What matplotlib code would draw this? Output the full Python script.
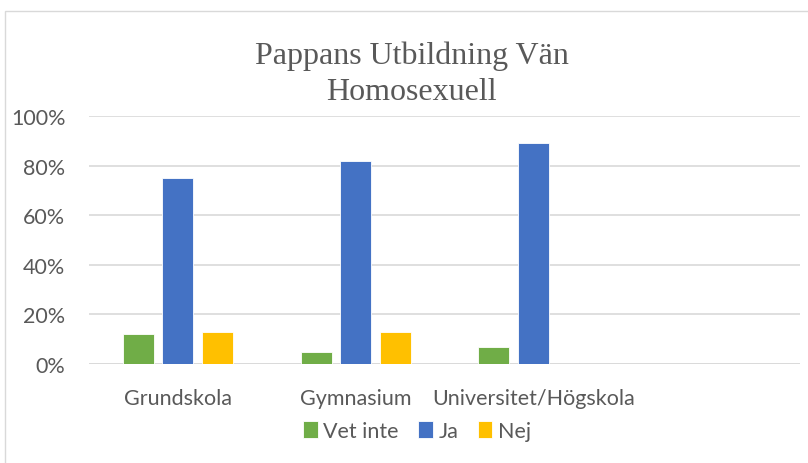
import matplotlib
matplotlib.use("Agg")
import matplotlib.pyplot as plt
import numpy as np
from matplotlib.patches import Rectangle

categories = ["Grundskola", "Gymnasium", "Universitet/Högskola", ""]
series_names = ["Vet inte", "Ja", "Nej"]
vet_inte = [12, 5, 7, np.nan]
ja = [75, 82, 89, np.nan]
nej = [13, 13, np.nan, np.nan]
y_ticks = [0, 20, 40, 60, 80, 100]
y_tick_labels = ["0%", "20%", "40%", "60%", "80%", "100%"]
title_lines = ["Pappans Utbildning Vän", "Homosexuell"]

colors = ["#70AD47", "#4472C4", "#FFC000"]
text_color = "#595959"
grid_color = "#D9D9D9"

W, H = 808, 464
fig = plt.figure(figsize=(W / 100, H / 100), dpi=100)
fig.patch.set_facecolor("white")

# chart border (only left/top visible in the crop)
fig.patches.append(Rectangle((5 / W, -0.05), 1.2, 1 - 12 / H + 0.05,
                             transform=fig.transFigure, fill=False,
                             edgecolor=grid_color, linewidth=1.0))

ax = fig.add_axes([89 / W, 1 - 365 / H, 711 / W, 248 / H])

x = np.arange(len(categories))
width = 0.174
pitch = 0.222
all_series = [vet_inte, ja, nej]
handles = []
for i, (vals, c, name) in enumerate(zip(all_series, colors, series_names)):
    b = ax.bar(x + (i - 1) * pitch, vals, width=width, color=c,
               edgecolor="white", linewidth=0.6, label=name, zorder=3)
    handles.append(b)

ax.set_xlim(-0.5, len(categories) - 0.5)
ax.set_ylim(0, 100)
ax.set_yticks(y_ticks)
ax.set_yticklabels(y_tick_labels)
ax.set_xticks(x)
ax.set_xticklabels(categories)
ax.yaxis.grid(True, color=grid_color, linewidth=1.2, zorder=0)
ax.set_axisbelow(True)
for s in ax.spines.values():
    s.set_visible(False)
ax.axhline(0, color=grid_color, linewidth=1.2, zorder=1)
ax.tick_params(axis="both", length=0, colors=text_color, labelsize=15.5)
ax.tick_params(axis="y", pad=17)
ax.tick_params(axis="x", pad=17)
for lab in ax.get_xticklabels() + ax.get_yticklabels():
    lab.set_fontfamily("Lato")
    lab.set_color(text_color)

# title: two lines, baselines near y=64 and y=100 px
for line, yb in zip(title_lines, [64, 100]):
    fig.text(411.5 / W, 1 - yb / H, line, ha="center", va="baseline",
             fontsize=23, color=text_color, family="Liberation Serif")

leg = fig.legend(handles=handles, labels=series_names, loc="center",
                 bbox_to_anchor=(417 / W, 1 - 432 / H), ncol=3, frameon=False,
                 prop={"family": "Lato", "size": 15.5},
                 handlelength=0.68, handleheight=0.85, handletextpad=0.25,
                 columnspacing=0.9)
for t in leg.get_texts():
    t.set_color(text_color)

fig.savefig("out.png", dpi=100, facecolor="white")
